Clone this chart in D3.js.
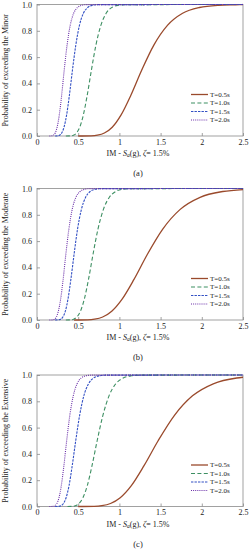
<!DOCTYPE html>
<html><head><meta charset="utf-8">
<script src="https://cdn.jsdelivr.net/npm/d3@7/dist/d3.min.js"></script>
<style>
html,body{margin:0;padding:0;background:#fff;}
svg{display:block;}
text{font-family:"Liberation Serif","Times New Roman",serif;fill:#222;}
</style></head>
<body><svg id="chart" width="250" height="550"></svg>
<script>
// ---- data ----
const damageStates = ["Minor", "Moderate", "Extensive"];
const panelLabels = ["(a)", "(b)", "(c)"];
const seriesNames = ["T=0.5s", "T=1.0s", "T=1.5s", "T=2.0s"];
const xTicks = [0, 0.5, 1, 1.5, 2, 2.5];
const xTickLabels = ["0", "0.5", "1", "1.5", "2", "2.5"];
const yTicks = [0, 0.2, 0.4, 0.6, 0.8, 1.0];
const yTickLabels = ["0.0", "0.2", "0.4", "0.6", "0.8", "1.0"];

// shared probability levels for most curves
const probLevels = [0, 0.0013, 0.0062, 0.0228, 0.0668, 0.1587, 0.3085, 0.5, 0.6915, 0.8413, 0.9332, 0.9772, 0.9938, 0.9987, 1];

// (a) Minor
const minorIM_T05 = [0.50, 0.656, 0.733, 0.818, 0.913, 1.019, 1.138, 1.27, 1.418, 1.583, 1.767, 1.972, 2.201, 2.457, 2.5];
const minorIM_T10 = [0.35, 0.408, 0.442, 0.479, 0.519, 0.562, 0.609, 0.66, 0.715, 0.775, 0.839, 0.909, 0.985, 1.067, 2.5];
const minorIM_T15 = [0.22, 0.251, 0.274, 0.300, 0.328, 0.359, 0.393, 0.43, 0.471, 0.515, 0.563, 0.616, 0.674, 0.738, 2.5];
const minorIM_T20 = [0.15, 0.181, 0.200, 0.221, 0.244, 0.270, 0.299, 0.33, 0.365, 0.403, 0.445, 0.492, 0.544, 0.601, 2.5];

// (b) Moderate
const moderateIM_T05 = [0.45, 0.614, 0.699, 0.797, 0.907, 1.033, 1.177, 1.34, 1.526, 1.738, 1.979, 2.254, 2.5];
const moderateP_T05 = [0, 0.0013, 0.0062, 0.0228, 0.0668, 0.1587, 0.3085, 0.5, 0.6915, 0.8413, 0.9332, 0.9772, 0.992];
const moderateIM_T10 = [0.35, 0.408, 0.445, 0.484, 0.527, 0.574, 0.625, 0.68, 0.740, 0.806, 0.878, 0.955, 1.040, 1.132, 2.5];
const moderateIM_T15 = [0.22, 0.262, 0.287, 0.314, 0.344, 0.376, 0.411, 0.45, 0.492, 0.539, 0.590, 0.645, 0.706, 0.772, 2.5];
const moderateIM_T20 = [0.15, 0.192, 0.212, 0.235, 0.259, 0.287, 0.317, 0.35, 0.387, 0.427, 0.472, 0.522, 0.577, 0.638, 2.5];

// (c) Extensive
const extensiveIM_T05 = [0.50, 0.694, 0.787, 0.892, 1.010, 1.145, 1.297, 1.47, 1.666, 1.887, 2.139, 2.424, 2.5];
const extensiveP_T05 = [0, 0.0013, 0.0062, 0.0228, 0.0668, 0.1587, 0.3085, 0.5, 0.6915, 0.8413, 0.9332, 0.9772, 0.983];
const extensiveIM_T10 = [0.37, 0.425, 0.465, 0.509, 0.557, 0.610, 0.667, 0.73, 0.799, 0.874, 0.956, 1.046, 1.145, 1.253, 2.5];
const extensiveIM_T15 = [0.22, 0.266, 0.292, 0.321, 0.353, 0.389, 0.427, 0.47, 0.517, 0.568, 0.625, 0.687, 0.756, 0.831, 2.5];
const extensiveIM_T20 = [0.15, 0.198, 0.218, 0.241, 0.267, 0.295, 0.326, 0.36, 0.398, 0.440, 0.486, 0.537, 0.594, 0.656, 2.5];

const panelData = [
  [[minorIM_T05, probLevels], [minorIM_T10, probLevels], [minorIM_T15, probLevels], [minorIM_T20, probLevels]],
  [[moderateIM_T05, moderateP_T05], [moderateIM_T10, probLevels], [moderateIM_T15, probLevels], [moderateIM_T20, probLevels]],
  [[extensiveIM_T05, extensiveP_T05], [extensiveIM_T10, probLevels], [extensiveIM_T15, probLevels], [extensiveIM_T20, probLevels]]
];

// ---- styles ----
const colors = ["#9a4a2c", "#3d8f62", "#3350c4", "#6a2fa8"];
const dashes = [null, "4,2.4", "2.4,1.1", "1,1.1"];
const widths = [1.3, 1.1, 1.1, 1.1];

const svg = d3.select("#chart");
const left = 37, right = 243;
const tops = [4.5, 188.5, 375];
const plotH = 131.5;
const fs = 8;

const x = d3.scaleLinear().domain([0, 2.5]).range([left, right]);

damageStates.forEach((ds, pi) => {
  const top = tops[pi], bottom = top + plotH;
  const y = d3.scaleLinear().domain([0, 1]).range([bottom, top]);
  const g = svg.append("g");

  // frame
  g.append("rect").attr("x", left).attr("y", top).attr("width", right - left).attr("height", plotH)
    .attr("fill", "none").attr("stroke", "#8a8a8a").attr("stroke-width", 0.8);

  // axes (inward ticks)
  const xAxis = d3.axisBottom(x).tickValues(xTicks).tickSize(-3).tickPadding(3)
    .tickFormat((d, i) => xTickLabels[i]);
  const gx = g.append("g").attr("transform", `translate(0,${bottom})`).call(xAxis);
  const yAxis = d3.axisLeft(y).tickValues(yTicks).tickSize(-3).tickPadding(5)
    .tickFormat((d, i) => yTickLabels[i]);
  const gy = g.append("g").attr("transform", `translate(${left},0)`).call(yAxis);
  [gx, gy].forEach(ax => {
    ax.select(".domain").remove();
    ax.selectAll(".tick line").attr("stroke", "#8a8a8a").attr("stroke-width", 0.8);
    ax.selectAll(".tick text").attr("font-size", fs).attr("font-family", "Liberation Serif").attr("fill", "#222");
  });

  // curves
  const line = d3.line().curve(d3.curveMonotoneX).x(d => x(d[0])).y(d => y(d[1]));
  panelData[pi].forEach((pair, si) => {
    const pts = pair[0].map((v, k) => [v, pair[1][k]]);
    g.append("path").datum(pts).attr("d", line).attr("fill", "none")
      .attr("stroke", colors[si]).attr("stroke-width", widths[si])
      .attr("stroke-dasharray", dashes[si]);
  });

  // legend
  const lx0 = 191, lx1 = 208, ly0 = top + 90, ldy = 8.5;
  seriesNames.forEach((nm, si) => {
    const yy = ly0 + si * ldy;
    g.append("line").attr("x1", lx0).attr("x2", lx1).attr("y1", yy).attr("y2", yy)
      .attr("stroke", colors[si]).attr("stroke-width", widths[si]).attr("stroke-dasharray", dashes[si]);
    g.append("text").attr("x", lx1 + 2).attr("y", yy).attr("dy", "0.33em")
      .attr("font-size", 7).text(nm);
  });

  // y title
  g.append("text").attr("transform", `translate(8,${(top + bottom) / 2}) rotate(-90)`)
    .attr("text-anchor", "middle").attr("font-size", fs).text("Probability  of  exceeding  the  " + ds);

  // x title
  const xt = g.append("text").attr("x", (left + right) / 2 - 2).attr("y", bottom + 20)
    .attr("text-anchor", "middle").attr("font-size", fs);
  xt.append("tspan").text("IM - ");
  xt.append("tspan").attr("font-style", "italic").text("S");
  xt.append("tspan").attr("font-style", "italic").attr("font-size", fs * 0.7).attr("dy", "0.2em").text("a");
  xt.append("tspan").attr("dy", "-0.14em").text("(g), ");
  xt.append("tspan").attr("font-style", "italic").text("ζ");
  xt.append("tspan").text("= 1.5%");

  // panel label
  g.append("text").attr("x", (left + right) / 2 - 2).attr("y", bottom + 40)
    .attr("text-anchor", "middle").attr("font-size", fs + 0.5).text(panelLabels[pi]);
});
</script></body></html>
